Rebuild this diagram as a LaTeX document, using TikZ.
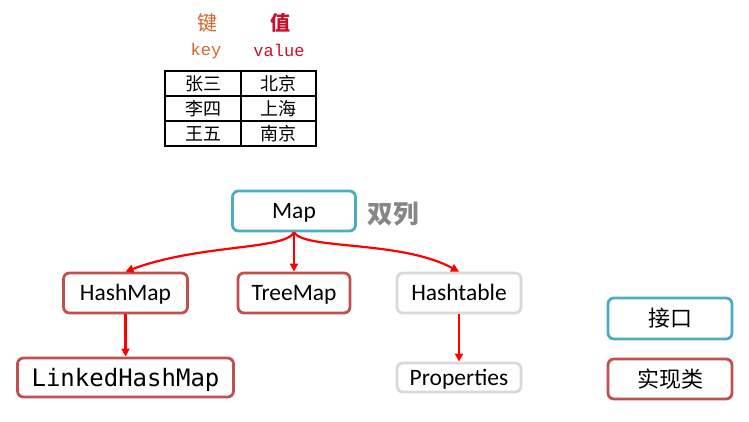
\documentclass[tikz,border=0pt]{standalone}
\usepackage{fontspec}
\setmainfont{Carlito}
\newfontfamily\cjk{Noto Sans CJK SC}
\newfontfamily\monofont{DejaVu Sans Mono}
\newfontfamily\keyfont{Liberation Mono}
\usetikzlibrary{arrows.meta}
\definecolor{ifc}{HTML}{4BACC6}
\definecolor{impl}{HTML}{C0504D}
\definecolor{lgray}{HTML}{D9D9D9}
\definecolor{arr}{HTML}{FF0000}
\definecolor{keyc}{HTML}{D8642A}
\definecolor{valc}{HTML}{C8102E}
\begin{document}
\begin{tikzpicture}[x=1pt,y=-1pt,
  box/.style={draw, line width=2.8pt, rounded corners=6pt, fill=white, inner sep=0pt, font=\fontsize{23.5}{27}\selectfont},
  lat/.style={text height=18.8pt, text depth=3.8pt},
  monolat/.style={text height=20pt, text depth=2.5pt},
  ifbox/.style={box, draw=ifc},
  imbox/.style={box, draw=impl},
  grbox/.style={box, draw=lgray},
  link/.style={draw=arr, line width=2.2pt, -{Triangle[length=8pt,width=8pt]}},
  cell/.style={font=\cjk\fontsize{18}{21}\selectfont, inner sep=0pt}
]
\useasboundingbox (0,0) rectangle (749,422);
\fill[white] (0,0) rectangle (749,422);

% header
\node[font=\cjk\fontsize{20}{24}\selectfont, text=keyc] (hk) at (207,23) {键};
\node[font=\cjk\bfseries\fontsize{20}{24}\selectfont, text=valc] (hv) at (280,23) {值};
\node[font=\keyfont\fontsize{17}{20}\selectfont, text=keyc] (tk) at (206,51) {key};
\node[font=\keyfont\fontsize{17}{20}\selectfont, text=valc] (tv) at (279,50) {value};

% table
\draw[line width=2.7pt] (165,71) rectangle (316,146);
\draw[line width=2.7pt] (165,96) -- (316,96);
\draw[line width=2.7pt] (165,121) -- (316,121);
\draw[line width=2.7pt] (241,71) -- (241,146);
\node[cell] (c11) at (203,84) {张三};
\node[cell] (c12) at (278,84) {北京};
\node[cell] (c21) at (203,109) {李四};
\node[cell] (c22) at (278,109) {上海};
\node[cell] (c31) at (203,134) {王五};
\node[cell] (c32) at (278,134) {南京};

% nodes
\node[ifbox, lat, minimum width=123pt, minimum height=40pt] (map) at (294,211) {Map};
\node[font=\cjk\bfseries\fontsize{25.5}{30}\selectfont, text=gray!95] (dl) at (393,214) {双列};
\node[imbox, lat, minimum width=124pt, minimum height=40pt] (hm) at (125.5,293) {HashMap};
\node[imbox, lat, minimum width=112pt, minimum height=40pt] (tm) at (294,293) {TreeMap};
\node[grbox, lat, minimum width=124pt, minimum height=40pt] (ht) at (459,293) {Hashtable};
\node[imbox, monolat, minimum width=216pt, minimum height=39pt, font=\monofont\fontsize{24}{28}\selectfont] (lhm) at (125.5,377.5) {LinkedHashMap};
\node[grbox, lat, minimum width=124pt, minimum height=29pt] (pr) at (459,377.5) {Properties};
\node[ifbox, minimum width=124pt, minimum height=41pt, font=\cjk\fontsize{22}{26}\selectfont] (lg1) at (670,318.5) {接口};
\node[imbox, minimum width=124pt, minimum height=40pt, font=\cjk\fontsize{22}{26}\selectfont] (lg2) at (670,379) {实现类};

% connectors
\draw[link] (map.south) .. controls (285,250) and (200,244) .. (hm.north);
\draw[link] (map.south) -- (tm.north);
\draw[link] (map.south) .. controls (305,250) and (400,240) .. (ht.north);
\draw[link] (hm.south) -- (lhm.north);
\draw[link] (ht.south) -- (pr.north);
\end{tikzpicture}
\end{document}
